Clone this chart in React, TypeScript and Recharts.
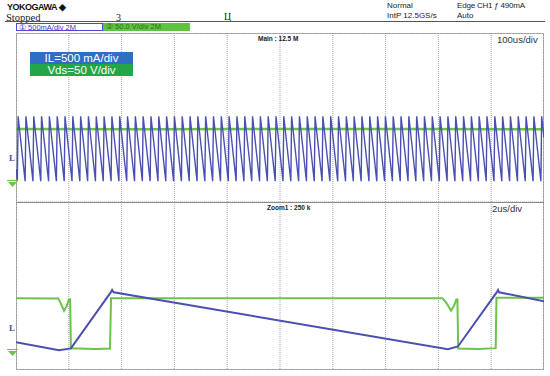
import React from "react";
import {
  ComposedChart,
  Line,
  XAxis,
  YAxis,
  CartesianGrid,
  ReferenceArea,
} from "recharts";

// ---- main window (100us/div, 10 div) ----
const mainDivTicks = [0, 100, 200, 300, 400, 500, 600, 700, 800, 900, 1000];
// start time (us) of each IL ramp-up
const toothTimes = [
  2.5, 17.3, 32.1, 46.9, 61.7, 76.5, 91.3, 106.1, 120.9, 135.7, 150.5, 165.3,
  180.1, 194.9, 209.7, 224.5, 239.3, 254.1, 268.9, 283.7, 298.5, 313.3, 328.1,
  342.9, 357.7, 372.5, 387.3, 402.1, 416.9, 431.7, 446.5, 461.3, 476.1, 490.9,
  505.7, 520.5, 535.3, 550.1, 564.9, 579.7, 594.5, 609.3, 624.1, 638.9, 653.7,
  668.5, 683.3, 698.1, 712.9, 727.7, 742.5, 757.3, 772.1, 786.9, 801.7, 816.5,
  831.3, 846.1, 860.9, 875.7, 890.5, 905.3, 920.1, 934.9, 949.7, 964.5, 979.3,
  994.1,
];
const mainIlPeak = 1030; // mA
const mainIlValley = -510; // mA
const mainIlRise = 1.5; // us
const mainIlStartEnd = [-220, 520]; // mA at t=0 and t=1000
// Vds as it shows on the main trace (the ~1.5us low pulses are hidden under IL)
const mainVdsTime = [0, 250, 500, 750, 1000];
const mainVdsValue = [123, 122, 123, 123, 122];

// ---- zoom window (2us/div, 10 div) ----
const zoomDivTicks = [0, 2, 4, 6, 8, 10, 12, 14, 16, 18, 20];
const zoomIlTime = [0, 1.63, 2.08, 3.6, 3.64, 3.7, 16.36, 16.74, 18.22, 18.26, 18.3, 20];
const zoomIlValue = [-340, -530, -485, 860, 905, 850, -505, -440, 860, 905, 850, 635];
const zoomVdsTime = [
  0, 1.6, 1.7, 1.82, 1.92, 2.0, 2.05, 2.08, 3.0, 3.56, 3.6, 10, 16.15, 16.3,
  16.48, 16.6, 16.68, 16.72, 16.75, 17.5, 18.17, 18.2, 20,
];
const zoomVdsValue = [
  121, 120, 108, 91, 102, 117, 118, 2, 0, 1, 121, 121, 121, 110, 91, 104, 118,
  118, 1, 0, 2, 122, 122,
];

const divTicks = [-4, -3, -2, -1, 0, 1, 2, 3, 4];
const ilDomain = [-1000, 3000]; // 500 mA/div, zero at L marker
const vdsDomain = [-50, 350]; // 50 V/div, zero at ground marker

const subdivide = (ticks: number[], n: number) => {
  const out: number[] = [];
  for (let i = 0; i < ticks.length - 1; i++)
    for (let j = 0; j < n; j++) out.push(ticks[i] + ((ticks[i + 1] - ticks[i]) * j) / n);
  out.push(ticks[ticks.length - 1]);
  return out;
};

const mainIlData = [
  { t: 0, il: mainIlStartEnd[0] },
  ...toothTimes.flatMap((tk) => [
    { t: tk, il: mainIlValley },
    { t: tk + mainIlRise, il: mainIlPeak },
  ]),
  { t: 1000, il: mainIlStartEnd[1] },
];
const mainVdsData = mainVdsTime.map((t, i) => ({ t, v: mainVdsValue[i] }));
const zoomIlData = zoomIlTime.map((t, i) => ({ t, il: zoomIlValue[i] }));
const zoomVdsData = zoomVdsTime.map((t, i) => ({ t, v: zoomVdsValue[i] }));

const BLUE = "#4a4fb2";
const GREEN = "#6cc34a";
const SANS = "'Liberation Sans', Arial, sans-serif";
const SERIF = "'Liberation Serif', 'Times New Roman', serif";

type PanelProps = {
  top: number;
  height: number;
  xTicks: number[];
  ilData: { t: number; il: number }[];
  vdsData: { t: number; v: number }[];
  lineWidth: number;
  vdsWidth: number;
  zoomBox?: [number, number];
};

const ScopePanel = ({ top, height, xTicks, ilData, vdsData, lineWidth, vdsWidth, zoomBox }: PanelProps) => {
  const xDomain = [xTicks[0], xTicks[xTicks.length - 1]];
  return (
    <div style={{ position: "absolute", left: 16, top, width: 528, height }}>
      <ComposedChart width={528} height={height} margin={{ top: 0, right: 0, bottom: 0, left: 0 }}>
        <XAxis xAxisId="t" type="number" dataKey="t" domain={xDomain} ticks={xTicks} hide allowDataOverflow />
        <XAxis xAxisId="tm" type="number" dataKey="t" domain={xDomain} ticks={subdivide(xTicks, 5)} hide />
        <YAxis yAxisId="div" type="number" domain={[-4, 4]} ticks={divTicks} hide />
        <YAxis yAxisId="divm" type="number" domain={[-4, 4]} ticks={subdivide(divTicks, 5)} hide />
        <YAxis yAxisId="il" type="number" domain={ilDomain} hide allowDataOverflow />
        <YAxis yAxisId="vds" type="number" domain={vdsDomain} hide allowDataOverflow />
        <CartesianGrid xAxisId="tm" yAxisId="divm" stroke="#d6d6d6" strokeDasharray="1 2" />
        <CartesianGrid xAxisId="t" yAxisId="div" stroke="#a8a8a8" strokeDasharray="1 1" />
        <Line
          xAxisId="t"
          yAxisId="vds"
          data={vdsData}
          dataKey="v"
          stroke={GREEN}
          strokeWidth={vdsWidth}
          dot={false}
          isAnimationActive={false}
        />
        <Line
          xAxisId="t"
          yAxisId="il"
          data={ilData}
          dataKey="il"
          stroke={BLUE}
          strokeWidth={lineWidth}
          dot={false}
          isAnimationActive={false}
        />
        {zoomBox && (
          <ReferenceArea
            xAxisId="t"
            yAxisId="div"
            x1={zoomBox[0]}
            x2={zoomBox[1]}
            y1={-4}
            y2={4}
            fill="none"
            stroke="#555"
            strokeWidth={1}
          />
        )}
      </ComposedChart>
    </div>
  );
};

const GroundMark = ({ top }: { top: number }) => (
  <svg style={{ position: "absolute", left: 7, top }} width={11} height={7}>
    <line x1={0} y1={0.5} x2={11} y2={0.5} stroke={GREEN} strokeWidth={1} />
    <polygon points="1,2 10,2 5.5,7" fill={GREEN} />
  </svg>
);

const txt = (left: number, top: number, size: number, extra: React.CSSProperties = {}): React.CSSProperties => ({
  position: "absolute",
  left,
  top,
  fontSize: size,
  lineHeight: 1,
  whiteSpace: "nowrap",
  fontFamily: SANS,
  color: "#222",
  ...extra,
});

export default function App() {
  return (
    <div style={{ position: "relative", width: 550, height: 376, background: "#fff", overflow: "hidden" }}>
      <style>{`body{margin:0}`}</style>

      {/* header */}
      <div style={txt(7, 2.5, 9, { fontWeight: 700, letterSpacing: -0.5, color: "#111" })}>
        YOKOGAWA <span style={{ fontSize: 9 }}>◆</span>
      </div>
      <div style={txt(6, 12.5, 10.5, { fontFamily: SERIF, color: "#222" })}>Stopped</div>
      <div style={txt(116, 13, 10, { fontFamily: SERIF })}>3</div>
      <div style={txt(224, 12, 10, { fontFamily: SERIF })}>Ц</div>
      <div style={txt(387, 2, 8)}>Normal</div>
      <div style={txt(457, 2, 8, { letterSpacing: -0.2 })}>Edge CH1 ƒ 490mA</div>
      <div style={txt(387, 12, 8)}>IntP 12.5GS/s</div>
      <div style={txt(457, 12, 8)}>Auto</div>
      <div style={{ position: "absolute", left: 5, top: 21, width: 540, borderTop: "1px solid #555" }} />

      {/* channel boxes */}
      <div
        style={{
          position: "absolute", left: 16, top: 23, width: 87, height: 8, boxSizing: "border-box",
          border: "1px solid #4848d0", background: "#fff",
        }}
      >
        <div style={txt(2, -0.5, 7.5, { color: "#3c3cc8" })}>① 500mA/div 2M</div>
      </div>
      <div style={{ position: "absolute", left: 103, top: 23, width: 87, height: 8, background: "#5ec341" }}>
        <div style={txt(3, 0, 7.5, { color: "#2d6e14" })}>② 50.0 V/div 2M</div>
      </div>

      {/* frame */}
      <div
        style={{
          position: "absolute", left: 16, top: 33, width: 528, height: 337, boxSizing: "border-box",
          border: "1px solid #9a9a9a",
        }}
      />

      <ScopePanel
        top={33}
        height={169}
        xTicks={mainDivTicks}
        ilData={mainIlData}
        vdsData={mainVdsData}
        lineWidth={1.4}
        vdsWidth={2.5}
        zoomBox={[514.6, 534.6]}
      />
      <ScopePanel
        top={202}
        height={168}
        xTicks={zoomDivTicks}
        ilData={zoomIlData}
        vdsData={zoomVdsData}
        lineWidth={2}
        vdsWidth={2}
      />
      <div style={{ position: "absolute", left: 16, top: 202, width: 528, borderTop: "1px solid #8a8a8a" }} />

      {/* overlays */}
      <div
        style={{
          position: "absolute", left: 30, top: 52, width: 103, height: 12, background: "#2d6fc0",
          color: "#fff", fontFamily: SANS, fontSize: 11.5, lineHeight: "12px", textAlign: "center",
        }}
      >
        IL=500 mA/div
      </div>
      <div
        style={{
          position: "absolute", left: 30, top: 64, width: 103, height: 12, background: "#22a648",
          color: "#fff", fontFamily: SANS, fontSize: 11.5, lineHeight: "12px", textAlign: "center",
        }}
      >
        Vds=50 V/div
      </div>
      <div style={txt(258, 36, 6.5, { fontWeight: 700 })}>Main : 12.5 M</div>
      <div style={txt(497, 35, 9.5, { color: "#333" })}>100us/div</div>
      <div style={txt(267, 205, 6.5, { fontWeight: 700 })}>Zoom1 : 250 k</div>
      <div style={txt(492, 204, 9.5, { color: "#333" })}>2us/div</div>

      {/* channel markers */}
      <div style={txt(9, 154, 9, { fontFamily: SERIF, fontWeight: 700, color: "#4a4aa8" })}>L</div>
      <GroundMark top={180} />
      <div style={txt(9, 324, 9, { fontFamily: SERIF, fontWeight: 700, color: "#4a4aa8" })}>L</div>
      <GroundMark top={349} />
    </div>
  );
}
